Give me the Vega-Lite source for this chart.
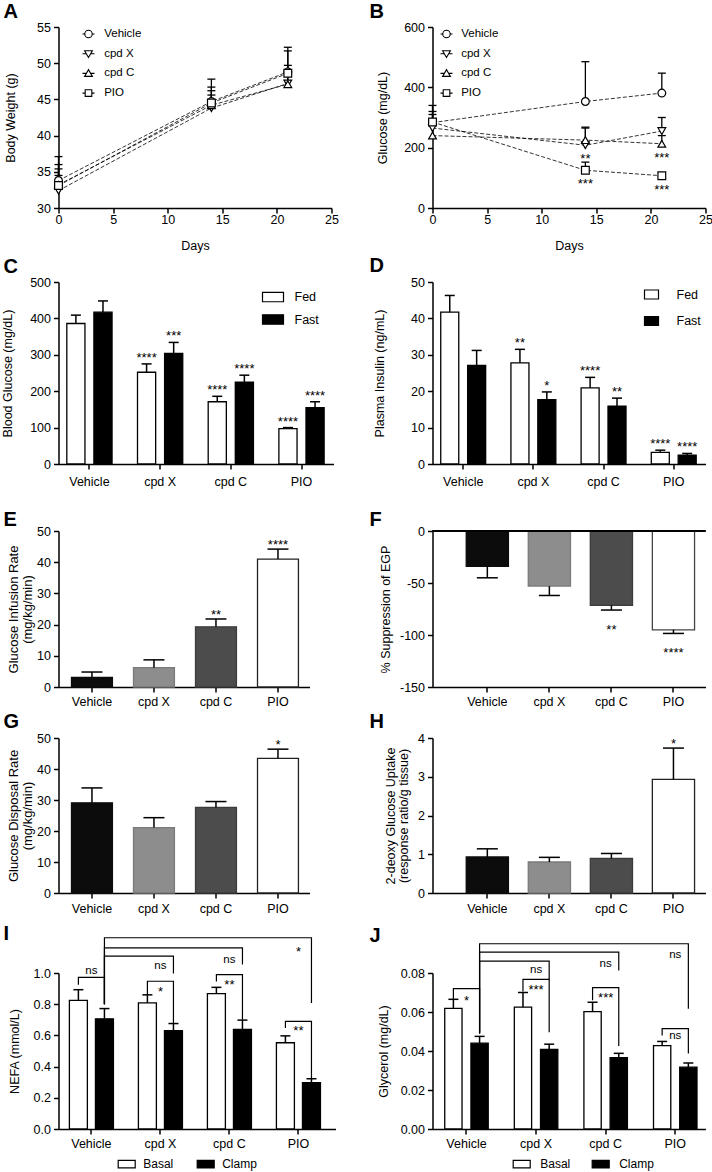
{
"$schema": "https://vega.github.io/schema/vega-lite/v6.json",
"background": "white",
"padding": {"left": 1.5, "top": 1, "right": 0, "bottom": 0},
"columns": 2,
"spacing": {"row": 0, "column": 97},
"bounds": "flush",
"align": "each",
"resolve": {"scale": {"fill": "independent", "shape": "independent", "stroke": "independent", "xOffset": "independent", "x": "independent", "y": "independent"}, "legend": {"fill": "independent", "shape": "independent", "stroke": "independent"}},
"datasets": {
"lines": [
{"panel":"A","group":"Vehicle","day":0,"mean":33.8,"err":37.1},
{"panel":"A","group":"Vehicle","day":14,"mean":44.7,"err":47.8},
{"panel":"A","group":"Vehicle","day":21,"mean":48.8,"err":52.2},
{"panel":"A","group":"cpd X","day":0,"mean":32.4,"err":34.5},
{"panel":"A","group":"cpd X","day":14,"mean":43.8,"err":45.6},
{"panel":"A","group":"cpd X","day":21,"mean":47.2,"err":48.6},
{"panel":"A","group":"cpd C","day":0,"mean":33.2,"err":35.4},
{"panel":"A","group":"cpd C","day":14,"mean":44.2,"err":46.2},
{"panel":"A","group":"cpd C","day":21,"mean":47.1,"err":49.7},
{"panel":"A","group":"PIO","day":0,"mean":33.1,"err":36.0},
{"panel":"A","group":"PIO","day":14,"mean":44.5,"err":46.7},
{"panel":"A","group":"PIO","day":21,"mean":48.6,"err":51.7},
{"panel":"B","group":"Vehicle","day":0,"mean":283,"err":340},
{"panel":"B","group":"Vehicle","day":14,"mean":353,"err":485},
{"panel":"B","group":"Vehicle","day":21,"mean":381,"err":447},
{"panel":"B","group":"cpd X","day":0,"mean":265,"err":310},
{"panel":"B","group":"cpd X","day":14,"mean":208,"err":265,"sig":"**"},
{"panel":"B","group":"cpd X","day":21,"mean":255,"err":300},
{"panel":"B","group":"cpd C","day":0,"mean":240,"err":290},
{"panel":"B","group":"cpd C","day":14,"mean":225,"err":268},
{"panel":"B","group":"cpd C","day":21,"mean":213,"err":240,"sig":"***"},
{"panel":"B","group":"PIO","day":0,"mean":285,"err":320},
{"panel":"B","group":"PIO","day":14,"mean":125,"err":152,"sig":"***"},
{"panel":"B","group":"PIO","day":21,"mean":107,"err":115,"sig":"***"}
],
"grouped": [
{"panel":"C","group":"Vehicle","cond":"Fed","mean":386,"err":409},
{"panel":"C","group":"Vehicle","cond":"Fast","mean":417,"err":448},
{"panel":"C","group":"cpd X","cond":"Fed","mean":252,"err":275,"sig":"****"},
{"panel":"C","group":"cpd X","cond":"Fast","mean":304,"err":334,"sig":"***"},
{"panel":"C","group":"cpd C","cond":"Fed","mean":171,"err":186,"sig":"****"},
{"panel":"C","group":"cpd C","cond":"Fast","mean":225,"err":244,"sig":"****"},
{"panel":"C","group":"PIO","cond":"Fed","mean":97,"err":100,"sig":"****"},
{"panel":"C","group":"PIO","cond":"Fast","mean":155,"err":171,"sig":"****"},
{"panel":"D","group":"Vehicle","cond":"Fed","mean":41.7,"err":46.3},
{"panel":"D","group":"Vehicle","cond":"Fast","mean":27.1,"err":31.2},
{"panel":"D","group":"cpd X","cond":"Fed","mean":27.8,"err":31.5,"sig":"**"},
{"panel":"D","group":"cpd X","cond":"Fast","mean":17.7,"err":19.8,"sig":"*"},
{"panel":"D","group":"cpd C","cond":"Fed","mean":20.9,"err":23.8,"sig":"****"},
{"panel":"D","group":"cpd C","cond":"Fast","mean":15.9,"err":18.1,"sig":"**"},
{"panel":"D","group":"PIO","cond":"Fed","mean":3.2,"err":3.8,"sig":"****"},
{"panel":"D","group":"PIO","cond":"Fast","mean":2.4,"err":2.9,"sig":"****"},
{"panel":"I","group":"Vehicle","cond":"Basal","mean":0.825,"err":0.893},
{"panel":"I","group":"Vehicle","cond":"Clamp","mean":0.706,"err":0.772},
{"panel":"I","group":"cpd X","cond":"Basal","mean":0.808,"err":0.86},
{"panel":"I","group":"cpd X","cond":"Clamp","mean":0.63,"err":0.676},
{"panel":"I","group":"cpd C","cond":"Basal","mean":0.868,"err":0.908},
{"panel":"I","group":"cpd C","cond":"Clamp","mean":0.638,"err":0.698},
{"panel":"I","group":"PIO","cond":"Basal","mean":0.553,"err":0.597},
{"panel":"I","group":"PIO","cond":"Clamp","mean":0.297,"err":0.322},
{"panel":"J","group":"Vehicle","cond":"Basal","mean":0.0619,"err":0.0665},
{"panel":"J","group":"Vehicle","cond":"Clamp","mean":0.044,"err":0.0475},
{"panel":"J","group":"cpd X","cond":"Basal","mean":0.0625,"err":0.07},
{"panel":"J","group":"cpd X","cond":"Clamp","mean":0.0408,"err":0.0435},
{"panel":"J","group":"cpd C","cond":"Basal","mean":0.0602,"err":0.065},
{"panel":"J","group":"cpd C","cond":"Clamp","mean":0.0366,"err":0.0388},
{"panel":"J","group":"PIO","cond":"Basal","mean":0.0428,"err":0.0449},
{"panel":"J","group":"PIO","cond":"Clamp","mean":0.0317,"err":0.0338}
],
"single": [
{"panel":"E","group":"Vehicle","mean":3.1,"err":4.8},
{"panel":"E","group":"cpd X","mean":6.2,"err":8.7},
{"panel":"E","group":"cpd C","mean":19.3,"err":21.8,"sig":"**"},
{"panel":"E","group":"PIO","mean":41.0,"err":44.2,"sig":"****"},
{"panel":"F","group":"Vehicle","mean":-34,"err":-45},
{"panel":"F","group":"cpd X","mean":-53,"err":-62},
{"panel":"F","group":"cpd C","mean":-71.5,"err":-76,"sig":"**"},
{"panel":"F","group":"PIO","mean":-95,"err":-98.5,"sig":"****"},
{"panel":"G","group":"Vehicle","mean":29.1,"err":33.9},
{"panel":"G","group":"cpd X","mean":21.1,"err":24.3},
{"panel":"G","group":"cpd C","mean":27.6,"err":29.5},
{"panel":"G","group":"PIO","mean":43.4,"err":46.4,"sig":"*"},
{"panel":"H","group":"Vehicle","mean":0.93,"err":1.14},
{"panel":"H","group":"cpd X","mean":0.8,"err":0.92},
{"panel":"H","group":"cpd C","mean":0.89,"err":1.02},
{"panel":"H","group":"PIO","mean":2.93,"err":3.74,"sig":"*"}
],
"brackets": [
{"panel":"I","id":"i1","group":"Vehicle","cond":"Basal","y":0.925,"o":1},
{"panel":"I","id":"i1","group":"Vehicle","cond":"Basal","y":0.972,"o":2},
{"panel":"I","id":"i1","group":"Vehicle","cond":"Clamp","y":0.972,"o":3},
{"panel":"I","id":"i1","group":"Vehicle","cond":"Clamp","y":0.8,"o":4},
{"panel":"I","id":"i2","group":"Vehicle","cond":"Clamp","y":0.8,"o":1},
{"panel":"I","id":"i2","group":"Vehicle","cond":"Clamp","y":1.108,"o":2},
{"panel":"I","id":"i2","group":"cpd X","cond":"Clamp","y":1.108,"o":3},
{"panel":"I","id":"i2","group":"cpd X","cond":"Clamp","y":0.996,"o":4},
{"panel":"I","id":"i3","group":"Vehicle","cond":"Clamp","y":0.8,"o":1},
{"panel":"I","id":"i3","group":"Vehicle","cond":"Clamp","y":1.161,"o":2},
{"panel":"I","id":"i3","group":"cpd C","cond":"Clamp","y":1.161,"o":3},
{"panel":"I","id":"i3","group":"cpd C","cond":"Clamp","y":1.054,"o":4},
{"panel":"I","id":"i4","group":"Vehicle","cond":"Clamp","y":0.8,"o":1},
{"panel":"I","id":"i4","group":"Vehicle","cond":"Clamp","y":1.226,"o":2},
{"panel":"I","id":"i4","group":"PIO","cond":"Clamp","y":1.226,"o":3},
{"panel":"I","id":"i4","group":"PIO","cond":"Clamp","y":0.808,"o":4},
{"panel":"I","id":"i5","group":"cpd X","cond":"Basal","y":0.861,"o":1},
{"panel":"I","id":"i5","group":"cpd X","cond":"Basal","y":0.947,"o":2},
{"panel":"I","id":"i5","group":"cpd X","cond":"Clamp","y":0.947,"o":3},
{"panel":"I","id":"i5","group":"cpd X","cond":"Clamp","y":0.679,"o":4},
{"panel":"I","id":"i6","group":"cpd C","cond":"Basal","y":0.945,"o":1},
{"panel":"I","id":"i6","group":"cpd C","cond":"Basal","y":0.99,"o":2},
{"panel":"I","id":"i6","group":"cpd C","cond":"Clamp","y":0.99,"o":3},
{"panel":"I","id":"i6","group":"cpd C","cond":"Clamp","y":0.7,"o":4},
{"panel":"I","id":"i7","group":"PIO","cond":"Basal","y":0.647,"o":1},
{"panel":"I","id":"i7","group":"PIO","cond":"Basal","y":0.69,"o":2},
{"panel":"I","id":"i7","group":"PIO","cond":"Clamp","y":0.69,"o":3},
{"panel":"I","id":"i7","group":"PIO","cond":"Clamp","y":0.326,"o":4},
{"panel":"J","id":"j1","group":"Vehicle","cond":"Basal","y":0.0665,"o":1},
{"panel":"J","id":"j1","group":"Vehicle","cond":"Basal","y":0.072,"o":2},
{"panel":"J","id":"j1","group":"Vehicle","cond":"Clamp","y":0.072,"o":3},
{"panel":"J","id":"j1","group":"Vehicle","cond":"Clamp","y":0.0498,"o":4},
{"panel":"J","id":"j2","group":"Vehicle","cond":"Clamp","y":0.049,"o":1},
{"panel":"J","id":"j2","group":"Vehicle","cond":"Clamp","y":0.0861,"o":2},
{"panel":"J","id":"j2","group":"cpd X","cond":"Clamp","y":0.0861,"o":3},
{"panel":"J","id":"j2","group":"cpd X","cond":"Clamp","y":0.0767,"o":4},
{"panel":"J","id":"j3","group":"Vehicle","cond":"Clamp","y":0.049,"o":1},
{"panel":"J","id":"j3","group":"Vehicle","cond":"Clamp","y":0.0907,"o":2},
{"panel":"J","id":"j3","group":"cpd C","cond":"Clamp","y":0.0907,"o":3},
{"panel":"J","id":"j3","group":"cpd C","cond":"Clamp","y":0.0813,"o":4},
{"panel":"J","id":"j4","group":"Vehicle","cond":"Clamp","y":0.049,"o":1},
{"panel":"J","id":"j4","group":"Vehicle","cond":"Clamp","y":0.095,"o":2},
{"panel":"J","id":"j4","group":"PIO","cond":"Clamp","y":0.095,"o":3},
{"panel":"J","id":"j4","group":"PIO","cond":"Clamp","y":0.0617,"o":4},
{"panel":"J","id":"j5","group":"cpd X","cond":"Basal","y":0.0705,"o":1},
{"panel":"J","id":"j5","group":"cpd X","cond":"Basal","y":0.0767,"o":2},
{"panel":"J","id":"j5","group":"cpd X","cond":"Clamp","y":0.0767,"o":3},
{"panel":"J","id":"j5","group":"cpd X","cond":"Clamp","y":0.0496,"o":4},
{"panel":"J","id":"j6","group":"cpd C","cond":"Basal","y":0.066,"o":1},
{"panel":"J","id":"j6","group":"cpd C","cond":"Basal","y":0.0725,"o":2},
{"panel":"J","id":"j6","group":"cpd C","cond":"Clamp","y":0.0725,"o":3},
{"panel":"J","id":"j6","group":"cpd C","cond":"Clamp","y":0.0426,"o":4},
{"panel":"J","id":"j7","group":"PIO","cond":"Basal","y":0.048,"o":1},
{"panel":"J","id":"j7","group":"PIO","cond":"Basal","y":0.0515,"o":2},
{"panel":"J","id":"j7","group":"PIO","cond":"Clamp","y":0.0515,"o":3},
{"panel":"J","id":"j7","group":"PIO","cond":"Clamp","y":0.0387,"o":4}
],
"blabels": [
{"panel":"I","group":"Vehicle","y":1.011,"text":"ns"},
{"panel":"I","group":"cpd X","y":1.043,"text":"ns"},
{"panel":"I","group":"cpd C","y":1.086,"text":"ns"},
{"panel":"I","group":"PIO","y":1.155,"text":"*"},
{"panel":"I","group":"cpd X","y":0.898,"text":"*"},
{"panel":"I","group":"cpd C","y":0.947,"text":"**"},
{"panel":"I","group":"PIO","y":0.647,"text":"**"},
{"panel":"J","group":"Vehicle","y":0.0674,"text":"*"},
{"panel":"J","group":"cpd X","y":0.0813,"text":"ns"},
{"panel":"J","group":"cpd X","y":0.0731,"text":"***"},
{"panel":"J","group":"cpd C","y":0.0848,"text":"ns"},
{"panel":"J","group":"cpd C","y":0.0689,"text":"***"},
{"panel":"J","group":"PIO","y":0.0894,"text":"ns"},
{"panel":"J","group":"PIO","y":0.0476,"text":"ns"}
]
},
"concat": [
{
"width": 273, "height": 181,
"title": {"text": "A", "dx": -55, "dy": 4.5},
"data": {"name": "lines"},
"transform": [{"filter": "datum.panel === 'A'"}],
"encoding": {"x": {"field": "day", "type": "quantitative", "title": "Days", "scale": {"domain": [0, 25], "nice": false}, "axis": {"values": [0,5,10,15,20,25], "tickCount": 20, "format": "d", "labelFlush": false, "labelPadding": 0, "titlePadding": 31}}},
"layer": [
{"mark": {"type": "line", "color": "black", "strokeWidth": 0.8, "strokeDash": [4, 2]},
 "encoding": {"y": {"field": "mean", "type": "quantitative", "title": "Body Weight (g)", "scale": {"domain": [30, 55], "nice": false, "zero": false}, "axis": {"values": [30,35,40,45,50,55], "tickCount": 20, "format": "d", "titlePadding": 41}}, "detail": {"field": "group", "type": "nominal"}}},
{"mark": {"type": "rule", "color": "black", "strokeWidth": 1.3},
 "encoding": {"y": {"field": "mean", "type": "quantitative", "title": "Body Weight (g)", "scale": {"domain": [30, 55], "nice": false, "zero": false}}, "y2": {"field": "err"}}},
{"mark": {"type": "tick", "orient": "horizontal", "size": 8, "thickness": 1.3, "color": "black", "opacity": 1},
 "encoding": {"y": {"field": "err", "type": "quantitative", "title": "Body Weight (g)", "scale": {"domain": [30, 55], "nice": false, "zero": false}}}},
{"mark": {"type": "point", "filled": true, "fill": "white", "stroke": "black", "strokeWidth": 1.2, "size": 60, "opacity": 1},
 "encoding": {"y": {"field": "mean", "type": "quantitative", "title": "Body Weight (g)", "scale": {"domain": [30, 55], "nice": false, "zero": false}}, "shape": {"field": "group", "type": "nominal", "scale": {"domain": ["Vehicle","cpd X","cpd C","PIO"], "range": ["circle","triangle-down","triangle-up","square"]}, "legend": null}}},
{"transform": [{"filter": "datum.day < 0"}],
 "mark": {"type": "point", "filled": false, "color": "black", "strokeWidth": 1.1, "size": 144, "opacity": 1},
 "encoding": {"y": {"field": "mean", "type": "quantitative", "title": "Body Weight (g)", "scale": {"domain": [30, 55], "nice": false, "zero": false}}, "shape": {"field": "group", "type": "nominal", "scale": {"domain": ["Vehicle","cpd X","cpd C","PIO"], "range": ["M-1,0H-0.62M0.62,0H1M0.62,0A0.62,0.62,0,1,1,-0.62,0A0.62,0.62,0,1,1,0.62,0Z","M-1,0H-0.36M0.36,0H1M-0.65,-0.5L0.65,-0.5L0,0.62Z","M-1,0H-0.36M0.36,0H1M-0.65,0.5L0.65,0.5L0,-0.62Z","M-1,0H-0.55M0.55,0H1M-0.55,-0.55H0.55V0.55H-0.55Z"]}, "legend": {"orient": "none", "legendX": 23, "legendY": 0, "title": null, "symbolSize": 144, "symbolStrokeWidth": 1.1, "labelFontSize": 11.5, "labelOffset": 8.7, "rowPadding": 6.7}}}}
],
"resolve": {"scale": {"shape": "independent"}}
},
{
"width": 273, "height": 181,
"title": {"text": "B", "dx": -63, "dy": 4.5},
"data": {"name": "lines"},
"transform": [{"filter": "datum.panel === 'B'"}],
"encoding": {"x": {"field": "day", "type": "quantitative", "title": "Days", "scale": {"domain": [0, 25], "nice": false}, "axis": {"values": [0,5,10,15,20,25], "tickCount": 20, "format": "d", "labelFlush": false, "labelPadding": 0, "titlePadding": 31}}},
"layer": [
{"mark": {"type": "line", "color": "black", "strokeWidth": 0.8, "strokeDash": [4, 2]},
 "encoding": {"y": {"field": "mean", "type": "quantitative", "title": "Glucose (mg/dL)", "scale": {"domain": [0, 600], "nice": false}, "axis": {"values": [0,200,400,600], "tickCount": 20, "format": "d", "titlePadding": 43.5}}, "detail": {"field": "group", "type": "nominal"}}},
{"mark": {"type": "rule", "color": "black", "strokeWidth": 1.3},
 "encoding": {"y": {"field": "mean", "type": "quantitative", "title": "Glucose (mg/dL)", "scale": {"domain": [0, 600], "nice": false}}, "y2": {"field": "err"}}},
{"mark": {"type": "tick", "orient": "horizontal", "size": 8, "thickness": 1.3, "color": "black", "opacity": 1},
 "encoding": {"y": {"field": "err", "type": "quantitative", "title": "Glucose (mg/dL)", "scale": {"domain": [0, 600], "nice": false}}}},
{"mark": {"type": "point", "filled": true, "fill": "white", "stroke": "black", "strokeWidth": 1.2, "size": 60, "opacity": 1},
 "encoding": {"y": {"field": "mean", "type": "quantitative", "title": "Glucose (mg/dL)", "scale": {"domain": [0, 600], "nice": false}}, "shape": {"field": "group", "type": "nominal", "scale": {"domain": ["Vehicle","cpd X","cpd C","PIO"], "range": ["circle","triangle-down","triangle-up","square"]}, "legend": null}}},
{"transform": [{"filter": "datum.sig"}],
 "mark": {"type": "text", "fontSize": 13, "baseline": "alphabetic", "dy": 18, "color": "black"},
 "encoding": {"y": {"field": "mean", "type": "quantitative", "title": "Glucose (mg/dL)", "scale": {"domain": [0, 600], "nice": false}}, "text": {"field": "sig", "type": "nominal"}}},
{"transform": [{"filter": "datum.day < 0"}],
 "mark": {"type": "point", "filled": false, "color": "black", "strokeWidth": 1.1, "size": 144, "opacity": 1},
 "encoding": {"y": {"field": "mean", "type": "quantitative", "title": "Glucose (mg/dL)", "scale": {"domain": [0, 600], "nice": false}}, "shape": {"field": "group", "type": "nominal", "scale": {"domain": ["Vehicle","cpd X","cpd C","PIO"], "range": ["M-1,0H-0.62M0.62,0H1M0.62,0A0.62,0.62,0,1,1,-0.62,0A0.62,0.62,0,1,1,0.62,0Z","M-1,0H-0.36M0.36,0H1M-0.65,-0.5L0.65,-0.5L0,0.62Z","M-1,0H-0.36M0.36,0H1M-0.65,0.5L0.65,0.5L0,-0.62Z","M-1,0H-0.55M0.55,0H1M-0.55,-0.55H0.55V0.55H-0.55Z"]}, "legend": {"orient": "none", "legendX": 7, "legendY": 0, "title": null, "symbolSize": 144, "symbolStrokeWidth": 1.1, "labelFontSize": 11.5, "labelOffset": 7.7, "rowPadding": 6.7}}}}
],
"resolve": {"scale": {"shape": "independent"}}
},
{"width": 1, "height": 74, "data": {"values": []}, "mark": "point", "encoding": {}},
{"width": 1, "height": 74, "data": {"values": []}, "mark": "point", "encoding": {}},
{
"width": 275, "height": 182,
"title": {"text": "C", "dx": -55, "dy": 4.5},
"data": {"name": "grouped"},
"transform": [{"filter": "datum.panel === 'C'"}],
"encoding": {
 "x": {"field": "group", "type": "nominal", "sort": ["Vehicle","cpd X","cpd C","PIO"], "scale": {"paddingInner": 0.36, "paddingOuter": 0.125, "align": 0.47}, "axis": {"title": null, "labelPadding": 6}},
 "xOffset": {"field": "cond", "type": "nominal", "sort": ["Fed","Fast"], "scale": {"paddingInner": 0.33, "paddingOuter": 0}}
},
"layer": [
{"mark": {"type": "bar", "stroke": "black", "strokeWidth": 1.3},
 "encoding": {"y": {"field": "mean", "type": "quantitative", "title": "Blood Glucose (mg/dL)", "scale": {"domain": [0, 500], "nice": false}, "axis": {"values": [0,100,200,300,400,500], "tickCount": 20, "format": "d", "titlePadding": 44}},
  "fill": {"field": "cond", "type": "nominal", "scale": {"domain": ["Fed","Fast"], "range": ["white","black"]}, "legend": {"orient": "none", "legendX": 203, "legendY": 3.5, "title": null, "symbolType": "M-1,-0.45H1V0.45H-1Z", "symbolSize": 441, "symbolStrokeColor": "black", "symbolStrokeWidth": 1.2, "labelFontSize": 12.5, "labelOffset": 10, "rowPadding": 3.5}}}},
{"mark": {"type": "rule", "color": "black", "strokeWidth": 1.5},
 "encoding": {"y": {"field": "mean", "type": "quantitative", "title": "Blood Glucose (mg/dL)", "scale": {"domain": [0, 500], "nice": false}}, "y2": {"field": "err"}}},
{"mark": {"type": "tick", "orient": "horizontal", "size": 10, "thickness": 1.5, "color": "black", "opacity": 1},
 "encoding": {"y": {"field": "err", "type": "quantitative", "title": "Blood Glucose (mg/dL)", "scale": {"domain": [0, 500], "nice": false}}}},
{"transform": [{"filter": "datum.sig"}],
 "mark": {"type": "text", "fontSize": 13, "baseline": "alphabetic", "dy": -2, "color": "black"},
 "encoding": {"y": {"field": "err", "type": "quantitative", "title": "Blood Glucose (mg/dL)", "scale": {"domain": [0, 500], "nice": false}}, "text": {"field": "sig", "type": "nominal"}}}
]
},
{
"width": 273, "height": 182,
"title": {"text": "D", "dx": -63, "dy": 3.8},
"data": {"name": "grouped"},
"transform": [{"filter": "datum.panel === 'D'"}],
"encoding": {
 "x": {"field": "group", "type": "nominal", "sort": ["Vehicle","cpd X","cpd C","PIO"], "scale": {"paddingInner": 0.36, "paddingOuter": 0.125, "align": 0.47}, "axis": {"title": null, "labelPadding": 6}},
 "xOffset": {"field": "cond", "type": "nominal", "sort": ["Fed","Fast"], "scale": {"paddingInner": 0.33, "paddingOuter": 0}}
},
"layer": [
{"mark": {"type": "bar", "stroke": "black", "strokeWidth": 1.3},
 "encoding": {"y": {"field": "mean", "type": "quantitative", "title": "Plasma Insulin (ng/mL)", "scale": {"domain": [0, 50], "nice": false}, "axis": {"values": [0,10,20,30,40,50], "tickCount": 20, "format": "d", "titlePadding": 46}},
  "fill": {"field": "cond", "type": "nominal", "scale": {"domain": ["Fed","Fast"], "range": ["white","black"]}, "legend": {"orient": "none", "legendX": 211, "legendY": 4.5, "title": null, "symbolType": "M-1,-0.64H1V0.64H-1Z", "symbolSize": 196, "symbolStrokeColor": "black", "symbolStrokeWidth": 1.2, "labelFontSize": 12.5, "labelOffset": 17, "rowPadding": 11.5}}}},
{"mark": {"type": "rule", "color": "black", "strokeWidth": 1.5},
 "encoding": {"y": {"field": "mean", "type": "quantitative", "title": "Plasma Insulin (ng/mL)", "scale": {"domain": [0, 50], "nice": false}}, "y2": {"field": "err"}}},
{"mark": {"type": "tick", "orient": "horizontal", "size": 10, "thickness": 1.5, "color": "black", "opacity": 1},
 "encoding": {"y": {"field": "err", "type": "quantitative", "title": "Plasma Insulin (ng/mL)", "scale": {"domain": [0, 50], "nice": false}}}},
{"transform": [{"filter": "datum.sig"}],
 "mark": {"type": "text", "fontSize": 13, "baseline": "alphabetic", "dy": -2, "color": "black"},
 "encoding": {"y": {"field": "err", "type": "quantitative", "title": "Plasma Insulin (ng/mL)", "scale": {"domain": [0, 50], "nice": false}}, "text": {"field": "sig", "type": "nominal"}}}
]
},
{"width": 1, "height": 67, "data": {"values": []}, "mark": "point", "encoding": {}},
{"width": 1, "height": 67, "data": {"values": []}, "mark": "point", "encoding": {}},
{
"width": 251, "height": 156,
"title": {"text": "E", "dx": -55, "dy": 8.5},
"data": {"name": "single"},
"transform": [{"filter": "datum.panel === 'E'"}],
"encoding": {"x": {"field": "group", "type": "nominal", "sort": ["Vehicle","cpd X","cpd C","PIO"], "scale": {"paddingInner": 0.34, "paddingOuter": 0.194, "align": 0.54}, "axis": {"title": null, "labelPadding": 3.8}}},
"layer": [
{"mark": {"type": "bar", "strokeWidth": 1.3},
 "encoding": {"y": {"field": "mean", "type": "quantitative", "title": ["Glucose Infusion Rate", "(mg/kg/min)"], "scale": {"domain": [0, 50], "nice": false}, "axis": {"values": [0,10,20,30,40,50], "tickCount": 20, "format": "d", "titlePadding": 24, "titleFontSize": 13, "titleLineHeight": 14.5}},
  "fill": {"field": "group", "type": "nominal", "scale": {"domain": ["Vehicle","cpd X","cpd C","PIO"], "range": ["#0c0c0c","#8d8d8d","#4c4c4c","#ffffff"]}, "legend": null},
  "stroke": {"field": "group", "type": "nominal", "scale": {"domain": ["Vehicle","cpd X","cpd C","PIO"], "range": ["#0c0c0c","#7a7a7a","#3c3c3c","#222222"]}, "legend": null}}},
{"mark": {"type": "rule", "color": "black", "strokeWidth": 1.5},
 "encoding": {"y": {"field": "mean", "type": "quantitative", "title": ["Glucose Infusion Rate", "(mg/kg/min)"], "scale": {"domain": [0, 50], "nice": false}}, "y2": {"field": "err"}}},
{"mark": {"type": "tick", "orient": "horizontal", "size": 21, "thickness": 1.5, "color": "black", "opacity": 1},
 "encoding": {"y": {"field": "err", "type": "quantitative", "title": ["Glucose Infusion Rate", "(mg/kg/min)"], "scale": {"domain": [0, 50], "nice": false}}}},
{"transform": [{"filter": "datum.sig"}],
 "mark": {"type": "text", "fontSize": 13, "baseline": "alphabetic", "dy": 0, "color": "black"},
 "encoding": {"y": {"field": "err", "type": "quantitative", "title": ["Glucose Infusion Rate", "(mg/kg/min)"], "scale": {"domain": [0, 50], "nice": false}}, "text": {"field": "sig", "type": "nominal"}}}
]
},
{
"width": 273, "height": 156,
"title": {"text": "F", "dx": -63, "dy": 8.8},
"data": {"name": "single"},
"transform": [{"filter": "datum.panel === 'F'"}],
"layer": [
{"mark": {"type": "bar", "strokeWidth": 1.3},
 "encoding": {"x": {"field": "group", "type": "nominal", "sort": ["Vehicle","cpd X","cpd C","PIO"], "scale": {"paddingInner": 0.32, "paddingOuter": 0.36, "align": 0.755}, "axis": {"title": null, "labelPadding": 3.8}},
  "y": {"field": "mean", "type": "quantitative", "title": "% Suppression of EGP", "scale": {"domain": [-150, 0], "nice": false}, "axis": {"values": [-150,-100,-50,0], "tickCount": 20, "labelExpr": "datum.value + ''", "titlePadding": 40.5}},
  "fill": {"field": "group", "type": "nominal", "scale": {"domain": ["Vehicle","cpd X","cpd C","PIO"], "range": ["#0c0c0c","#8d8d8d","#4c4c4c","#ffffff"]}, "legend": null},
  "stroke": {"field": "group", "type": "nominal", "scale": {"domain": ["Vehicle","cpd X","cpd C","PIO"], "range": ["#0c0c0c","#7a7a7a","#3c3c3c","#444444"]}, "legend": null}}},
{"mark": {"type": "rule", "color": "black", "strokeWidth": 1.5},
 "encoding": {"x": {"field": "group", "type": "nominal", "sort": ["Vehicle","cpd X","cpd C","PIO"]}, "y": {"field": "mean", "type": "quantitative", "title": "% Suppression of EGP", "scale": {"domain": [-150, 0], "nice": false}}, "y2": {"field": "err"}}},
{"mark": {"type": "tick", "orient": "horizontal", "size": 21, "thickness": 1.5, "color": "black", "opacity": 1},
 "encoding": {"x": {"field": "group", "type": "nominal", "sort": ["Vehicle","cpd X","cpd C","PIO"]}, "y": {"field": "err", "type": "quantitative", "title": "% Suppression of EGP", "scale": {"domain": [-150, 0], "nice": false}}}},
{"transform": [{"filter": "datum.sig"}],
 "mark": {"type": "text", "fontSize": 13, "baseline": "alphabetic", "dy": 23.8, "color": "black"},
 "encoding": {"x": {"field": "group", "type": "nominal", "sort": ["Vehicle","cpd X","cpd C","PIO"]}, "y": {"field": "err", "type": "quantitative", "title": "% Suppression of EGP", "scale": {"domain": [-150, 0], "nice": false}}, "text": {"field": "sig", "type": "nominal"}}},
{"mark": {"type": "rule", "color": "black", "strokeWidth": 1.5},
 "encoding": {"y": {"datum": 0, "type": "quantitative", "scale": {"domain": [-150, 0], "nice": false}}}}
]
},
{"width": 1, "height": 51, "data": {"values": []}, "mark": "point", "encoding": {}},
{"width": 1, "height": 51, "data": {"values": []}, "mark": "point", "encoding": {}},
{
"width": 251, "height": 155,
"title": {"text": "G", "dx": -55, "dy": 3.5},
"data": {"name": "single"},
"transform": [{"filter": "datum.panel === 'G'"}],
"encoding": {"x": {"field": "group", "type": "nominal", "sort": ["Vehicle","cpd X","cpd C","PIO"], "scale": {"paddingInner": 0.34, "paddingOuter": 0.194, "align": 0.54}, "axis": {"title": null, "labelPadding": 4}}},
"layer": [
{"mark": {"type": "bar", "strokeWidth": 1.3},
 "encoding": {"y": {"field": "mean", "type": "quantitative", "title": ["Glucose Disposal Rate", "(mg/kg/min)"], "scale": {"domain": [0, 50], "nice": false}, "axis": {"values": [0,10,20,30,40,50], "tickCount": 20, "format": "d", "titlePadding": 24, "titleFontSize": 13, "titleLineHeight": 14.5}},
  "fill": {"field": "group", "type": "nominal", "scale": {"domain": ["Vehicle","cpd X","cpd C","PIO"], "range": ["#0c0c0c","#8d8d8d","#4c4c4c","#ffffff"]}, "legend": null},
  "stroke": {"field": "group", "type": "nominal", "scale": {"domain": ["Vehicle","cpd X","cpd C","PIO"], "range": ["#0c0c0c","#7a7a7a","#3c3c3c","#222222"]}, "legend": null}}},
{"mark": {"type": "rule", "color": "black", "strokeWidth": 1.5},
 "encoding": {"y": {"field": "mean", "type": "quantitative", "title": ["Glucose Disposal Rate", "(mg/kg/min)"], "scale": {"domain": [0, 50], "nice": false}}, "y2": {"field": "err"}}},
{"mark": {"type": "tick", "orient": "horizontal", "size": 21, "thickness": 1.5, "color": "black", "opacity": 1},
 "encoding": {"y": {"field": "err", "type": "quantitative", "title": ["Glucose Disposal Rate", "(mg/kg/min)"], "scale": {"domain": [0, 50], "nice": false}}}},
{"transform": [{"filter": "datum.sig"}],
 "mark": {"type": "text", "fontSize": 13, "baseline": "alphabetic", "dy": 0, "color": "black"},
 "encoding": {"y": {"field": "err", "type": "quantitative", "title": ["Glucose Disposal Rate", "(mg/kg/min)"], "scale": {"domain": [0, 50], "nice": false}}, "text": {"field": "sig", "type": "nominal"}}}
]
},
{
"width": 273, "height": 155,
"title": {"text": "H", "dx": -63, "dy": 3.5},
"data": {"name": "single"},
"transform": [{"filter": "datum.panel === 'H'"}],
"encoding": {"x": {"field": "group", "type": "nominal", "sort": ["Vehicle","cpd X","cpd C","PIO"], "scale": {"paddingInner": 0.32, "paddingOuter": 0.36, "align": 0.755}, "axis": {"title": null, "labelPadding": 4}}},
"layer": [
{"mark": {"type": "bar", "strokeWidth": 1.3},
 "encoding": {"y": {"field": "mean", "type": "quantitative", "title": ["2-deoxy Glucose Uptake", "(response ratio/g tissue)"], "scale": {"domain": [0, 4], "nice": false}, "axis": {"values": [0,1,2,3,4], "tickCount": 20, "format": "d", "titlePadding": 22.4, "titleLineHeight": 12.5}},
  "fill": {"field": "group", "type": "nominal", "scale": {"domain": ["Vehicle","cpd X","cpd C","PIO"], "range": ["#0c0c0c","#8d8d8d","#4c4c4c","#ffffff"]}, "legend": null},
  "stroke": {"field": "group", "type": "nominal", "scale": {"domain": ["Vehicle","cpd X","cpd C","PIO"], "range": ["#0c0c0c","#7a7a7a","#3c3c3c","#222222"]}, "legend": null}}},
{"mark": {"type": "rule", "color": "black", "strokeWidth": 1.5},
 "encoding": {"y": {"field": "mean", "type": "quantitative", "title": ["2-deoxy Glucose Uptake", "(response ratio/g tissue)"], "scale": {"domain": [0, 4], "nice": false}}, "y2": {"field": "err"}}},
{"mark": {"type": "tick", "orient": "horizontal", "size": 21, "thickness": 1.5, "color": "black", "opacity": 1},
 "encoding": {"y": {"field": "err", "type": "quantitative", "title": ["2-deoxy Glucose Uptake", "(response ratio/g tissue)"], "scale": {"domain": [0, 4], "nice": false}}}},
{"transform": [{"filter": "datum.sig"}],
 "mark": {"type": "text", "fontSize": 13, "baseline": "alphabetic", "dy": 0, "color": "black"},
 "encoding": {"y": {"field": "err", "type": "quantitative", "title": ["2-deoxy Glucose Uptake", "(response ratio/g tissue)"], "scale": {"domain": [0, 4], "nice": false}}, "text": {"field": "sig", "type": "nominal"}}}
]
},
{"width": 1, "height": 80, "data": {"values": []}, "mark": "point", "encoding": {}},
{"width": 1, "height": 80, "data": {"values": []}, "mark": "point", "encoding": {}},
{
"width": 277, "height": 156,
"title": {"text": "I", "dx": -55, "dy": 12.3},
"encoding": {"x": {"field": "group", "type": "nominal", "sort": ["Vehicle","cpd X","cpd C","PIO"], "scale": {"paddingInner": 0.362, "paddingOuter": 0.188, "align": 0.42}, "axis": {"title": null, "labelPadding": 3}}},
"layer": [
{"data": {"name": "grouped"}, "transform": [{"filter": "datum.panel === 'I'"}],
 "mark": {"type": "bar", "stroke": "black", "strokeWidth": 1.3},
 "encoding": {"xOffset": {"field": "cond", "type": "nominal", "sort": ["Basal","Clamp"], "scale": {"paddingInner": 0.31, "paddingOuter": 0}},
  "y": {"field": "mean", "type": "quantitative", "title": "NEFA (mmol/L)", "scale": {"domain": [0, 1], "nice": false}, "axis": {"values": [0,0.2,0.4,0.6,0.8,1], "tickCount": 20, "format": ".1f", "titlePadding": 37.5}},
  "fill": {"field": "cond", "type": "nominal", "scale": {"domain": ["Basal","Clamp"], "range": ["white","black"]}, "legend": {"orient": "none", "legendX": 58.7, "legendY": 181.5, "direction": "horizontal", "title": null, "symbolType": "M-1,-0.45H1V0.45H-1Z", "symbolSize": 289, "symbolStrokeColor": "black", "symbolStrokeWidth": 1.2, "labelFontSize": 12, "labelOffset": 7, "columnPadding": 20}}}},
{"data": {"name": "grouped"}, "transform": [{"filter": "datum.panel === 'I'"}],
 "mark": {"type": "rule", "color": "black", "strokeWidth": 1.5},
 "encoding": {"xOffset": {"field": "cond", "type": "nominal", "sort": ["Basal","Clamp"], "scale": {"paddingInner": 0.31, "paddingOuter": 0}},
  "y": {"field": "mean", "type": "quantitative", "title": "NEFA (mmol/L)", "scale": {"domain": [0, 1], "nice": false}}, "y2": {"field": "err"}}},
{"data": {"name": "grouped"}, "transform": [{"filter": "datum.panel === 'I'"}],
 "mark": {"type": "tick", "orient": "horizontal", "size": 10, "thickness": 1.5, "color": "black", "opacity": 1},
 "encoding": {"xOffset": {"field": "cond", "type": "nominal", "sort": ["Basal","Clamp"], "scale": {"paddingInner": 0.31, "paddingOuter": 0}},
  "y": {"field": "err", "type": "quantitative", "title": "NEFA (mmol/L)", "scale": {"domain": [0, 1], "nice": false}}}},
{"data": {"name": "brackets"}, "transform": [{"filter": "datum.panel === 'I'"}],
 "mark": {"type": "line", "color": "black", "strokeWidth": 1.2},
 "encoding": {"xOffset": {"field": "cond", "type": "nominal", "sort": ["Basal","Clamp"], "scale": {"paddingInner": 0.31, "paddingOuter": 0}},
  "y": {"field": "y", "type": "quantitative", "title": "NEFA (mmol/L)", "scale": {"domain": [0, 1], "nice": false}}, "detail": {"field": "id", "type": "nominal"}, "order": {"field": "o", "type": "quantitative"}}},
{"data": {"name": "blabels"}, "transform": [{"filter": "datum.panel === 'I' && datum.text === 'ns'"}],
 "mark": {"type": "text", "fontSize": 11.5, "baseline": "alphabetic", "dy": 3, "color": "black"},
 "encoding": {"y": {"field": "y", "type": "quantitative", "title": "NEFA (mmol/L)", "scale": {"domain": [0, 1], "nice": false}}, "text": {"field": "text", "type": "nominal"}}},
{"data": {"name": "blabels"}, "transform": [{"filter": "datum.panel === 'I' && datum.text !== 'ns'"}],
 "mark": {"type": "text", "fontSize": 13, "baseline": "alphabetic", "dy": 7.4, "color": "black"},
 "encoding": {"y": {"field": "y", "type": "quantitative", "title": "NEFA (mmol/L)", "scale": {"domain": [0, 1], "nice": false}}, "text": {"field": "text", "type": "nominal"}}}
]
},
{
"width": 273, "height": 156,
"title": {"text": "J", "dx": -63, "dy": 8.9},
"encoding": {"x": {"field": "group", "type": "nominal", "sort": ["Vehicle","cpd X","cpd C","PIO"], "scale": {"paddingInner": 0.375, "paddingOuter": 0.149, "align": 0.59}, "axis": {"title": null, "labelPadding": 3}}},
"layer": [
{"data": {"name": "grouped"}, "transform": [{"filter": "datum.panel === 'J'"}],
 "mark": {"type": "bar", "stroke": "black", "strokeWidth": 1.3},
 "encoding": {"xOffset": {"field": "cond", "type": "nominal", "sort": ["Basal","Clamp"], "scale": {"paddingInner": 0.34, "paddingOuter": 0}},
  "y": {"field": "mean", "type": "quantitative", "title": "Glycerol (mg/dL)", "scale": {"domain": [0, 0.08], "nice": false}, "axis": {"values": [0,0.02,0.04,0.06,0.08], "tickCount": 20, "format": ".2f", "titlePadding": 42.5}},
  "fill": {"field": "cond", "type": "nominal", "scale": {"domain": ["Basal","Clamp"], "range": ["white","black"]}, "legend": {"orient": "none", "legendX": 79.7, "legendY": 181.5, "direction": "horizontal", "title": null, "symbolType": "M-1,-0.45H1V0.45H-1Z", "symbolSize": 289, "symbolStrokeColor": "black", "symbolStrokeWidth": 1.2, "labelFontSize": 12, "labelOffset": 9, "columnPadding": 18}}}},
{"data": {"name": "grouped"}, "transform": [{"filter": "datum.panel === 'J'"}],
 "mark": {"type": "rule", "color": "black", "strokeWidth": 1.5},
 "encoding": {"xOffset": {"field": "cond", "type": "nominal", "sort": ["Basal","Clamp"], "scale": {"paddingInner": 0.34, "paddingOuter": 0}},
  "y": {"field": "mean", "type": "quantitative", "title": "Glycerol (mg/dL)", "scale": {"domain": [0, 0.08], "nice": false}}, "y2": {"field": "err"}}},
{"data": {"name": "grouped"}, "transform": [{"filter": "datum.panel === 'J'"}],
 "mark": {"type": "tick", "orient": "horizontal", "size": 10, "thickness": 1.5, "color": "black", "opacity": 1},
 "encoding": {"xOffset": {"field": "cond", "type": "nominal", "sort": ["Basal","Clamp"], "scale": {"paddingInner": 0.34, "paddingOuter": 0}},
  "y": {"field": "err", "type": "quantitative", "title": "Glycerol (mg/dL)", "scale": {"domain": [0, 0.08], "nice": false}}}},
{"data": {"name": "brackets"}, "transform": [{"filter": "datum.panel === 'J'"}],
 "mark": {"type": "line", "color": "black", "strokeWidth": 1.2},
 "encoding": {"xOffset": {"field": "cond", "type": "nominal", "sort": ["Basal","Clamp"], "scale": {"paddingInner": 0.34, "paddingOuter": 0}},
  "y": {"field": "y", "type": "quantitative", "title": "Glycerol (mg/dL)", "scale": {"domain": [0, 0.08], "nice": false}}, "detail": {"field": "id", "type": "nominal"}, "order": {"field": "o", "type": "quantitative"}}},
{"data": {"name": "blabels"}, "transform": [{"filter": "datum.panel === 'J' && datum.text === 'ns'"}],
 "mark": {"type": "text", "fontSize": 11.5, "baseline": "alphabetic", "dy": 3, "color": "black"},
 "encoding": {"y": {"field": "y", "type": "quantitative", "title": "Glycerol (mg/dL)", "scale": {"domain": [0, 0.08], "nice": false}}, "text": {"field": "text", "type": "nominal"}}},
{"data": {"name": "blabels"}, "transform": [{"filter": "datum.panel === 'J' && datum.text !== 'ns'"}],
 "mark": {"type": "text", "fontSize": 13, "baseline": "alphabetic", "dy": 7.4, "color": "black"},
 "encoding": {"y": {"field": "y", "type": "quantitative", "title": "Glycerol (mg/dL)", "scale": {"domain": [0, 0.08], "nice": false}}, "text": {"field": "text", "type": "nominal"}}}
]
}
],
"config": {
 "font": "Liberation Sans",
 "view": {"stroke": null},
 "axis": {"grid": false, "domainColor": "black", "domainWidth": 1.5, "tickColor": "black", "tickWidth": 1.5, "tickSize": 5, "labelFont": "Liberation Sans", "labelFontSize": 12.5, "labelColor": "black", "titleFont": "Liberation Sans", "titleFontSize": 12.5, "titleFontWeight": "normal", "titleColor": "black", "minExtent": 0, "maxExtent": 0, "labelPadding": 3, "labelOverlap": false},
 "axisX": {"labelAngle": 0},
 "legend": {"labelFont": "Liberation Sans", "labelColor": "black", "padding": 0},
 "title": {"anchor": "start", "frame": "group", "font": "Liberation Sans", "fontSize": 20, "fontWeight": "bold", "color": "black", "baseline": "alphabetic", "offset": 0}
}
}
